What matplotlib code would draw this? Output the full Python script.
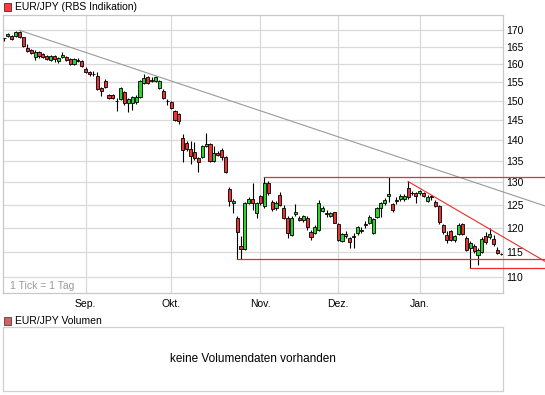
import matplotlib
matplotlib.use("Agg")
import matplotlib.pyplot as plt
from matplotlib.patches import Rectangle
from matplotlib.ticker import NullLocator, FixedLocator, FixedFormatter

plt.rcParams['font.family'] = ['Liberation Sans', 'DejaVu Sans']

# ---------------- data (EUR/JPY daily candles, trading-day index) ----------------
opens = [167.6, 168.1, 168.1, 168.1, 169.3, 167.8, 164.8, 164.1, 162.2, 163.5,
         162.9, 162.3, 161.3, 162.4, 160.9, 162.0, 162.0, 161.4, 160.1, 160.9,
         160.9, 158.8, 157.9, 157.3, 156.7, 153.4, 155.4, 151.6, 151.6, 150.1,
         150.5, 152.5, 149.4, 149.6, 149.7, 151.2, 154.9, 156.4, 155.6, 155.5,
         153.5, 152.8, 150.1, 149.8, 147.4, 146.6, 140.5, 139.3, 137.8, 137.2,
         135.6, 135.9, 138.6, 139.1, 135.1, 137.0, 137.6, 135.9, 128.5, 125.3,
         122.1, 116.2, 115.7, 125.3, 126.2, 123.2, 126.9, 124.6, 129.8, 125.6,
         124.2, 127.1, 124.3, 122.2, 118.6, 122.9, 122.2, 121.6, 122.2, 119.1,
         119.0, 119.6, 123.7, 123.2, 122.6, 123.3, 120.8, 117.3, 118.2, 117.8,
         118.3, 119.0, 119.3, 120.8, 121.1, 119.0, 122.4, 124.2, 125.4, 127.0,
         125.1, 126.0, 126.2, 126.2, 128.7, 127.7, 127.6, 127.5, 127.6, 125.9,
         126.9, 125.6, 124.7, 120.6, 118.5, 119.3, 117.4, 118.7, 120.8, 117.8,
         115.9, 116.2, 114.4, 115.0, 118.3, 118.0, 117.6, 115.4, 114.5]
highs = [167.7, 169.1, 168.4, 169.6, 169.8, 168.0, 165.9, 164.4, 164.1, 163.8,
         163.2, 162.6, 162.6, 162.7, 162.0, 163.4, 162.3, 161.7, 161.7, 161.8,
         161.2, 159.4, 158.2, 158.1, 157.9, 153.7, 155.9, 152.0, 152.0, 150.8,
         153.7, 152.8, 150.8, 151.3, 151.5, 155.8, 157.2, 156.7, 156.4, 156.9,
         155.6, 153.1, 150.5, 150.1, 147.7, 146.9, 141.5, 139.7, 139.9, 139.6,
         135.9, 138.9, 141.7, 139.4, 138.7, 137.4, 138.2, 136.2, 128.9, 126.2,
         122.5, 118.2, 125.5, 126.7, 129.8, 125.6, 127.2, 131.2, 130.2, 126.0,
         125.7, 127.8, 124.9, 122.6, 122.5, 125.1, 122.5, 122.8, 122.6, 119.5,
         120.5, 126.0, 124.6, 123.8, 123.4, 123.5, 121.0, 119.0, 119.3, 118.1,
         118.9, 120.4, 120.2, 121.5, 122.7, 122.1, 124.5, 125.6, 126.4, 131.3,
         125.4, 126.6, 127.3, 127.4, 130.2, 128.0, 127.9, 128.3, 127.9, 127.1,
         127.2, 126.0, 125.0, 120.9, 119.4, 119.6, 118.5, 121.0, 121.1, 118.2,
         117.2, 116.6, 115.8, 118.0, 119.2, 119.9, 118.4, 116.0, 114.7]
lows = [166.8, 167.9, 166.9, 167.9, 167.5, 165.0, 163.6, 162.9, 161.2, 161.9,
        161.7, 161.2, 161.0, 160.6, 160.3, 161.7, 160.9, 159.9, 159.8, 160.6,
        159.2, 157.6, 156.9, 156.7, 153.0, 151.3, 153.4, 150.6, 150.5, 147.5,
        150.2, 149.1, 147.2, 147.6, 149.3, 150.9, 154.6, 154.6, 155.0, 155.2,
        153.2, 150.5, 149.1, 148.0, 144.8, 144.0, 134.8, 137.5, 134.2, 135.3,
        132.3, 135.6, 138.3, 134.8, 134.8, 136.1, 135.3, 132.1, 124.6, 123.2,
        113.5, 113.5, 115.5, 125.1, 123.8, 122.2, 125.0, 124.3, 127.2, 123.6,
        123.9, 124.6, 121.9, 117.9, 118.3, 122.6, 121.4, 121.2, 119.6, 117.5,
        118.7, 119.3, 123.4, 122.3, 122.3, 121.0, 117.2, 117.1, 117.9, 115.8,
        115.8, 118.6, 118.9, 119.9, 120.8, 118.7, 122.1, 122.4, 125.0, 125.5,
        123.5, 125.2, 125.9, 125.9, 126.3, 127.2, 125.4, 127.2, 126.7, 125.6,
        126.0, 124.4, 120.9, 118.8, 116.9, 117.2, 117.1, 118.4, 118.4, 115.2,
        111.8, 114.8, 112.4, 114.7, 116.7, 117.7, 116.2, 114.6, 114.3]
closes = [167.5, 168.7, 167.2, 169.3, 167.8, 165.3, 163.9, 163.2, 163.6, 162.5,
          162.0, 161.5, 162.3, 161.4, 161.7, 162.8, 161.2, 160.2, 161.4, 161.3,
          159.5, 157.9, 157.3, 157.2, 153.3, 152.8, 153.7, 150.9, 150.8, 149.9,
          153.4, 149.4, 150.5, 151.0, 151.2, 155.5, 156.3, 154.9, 155.3, 156.4,
          155.3, 150.8, 149.9, 148.3, 145.1, 144.8, 137.6, 137.8, 136.2, 135.6,
          134.8, 138.6, 139.1, 135.1, 137.0, 136.4, 135.9, 132.4, 125.9, 125.9,
          119.2, 115.7, 125.3, 126.2, 125.3, 125.3, 125.3, 129.8, 127.5, 124.0,
          125.3, 124.9, 122.2, 119.0, 122.2, 123.5, 121.7, 122.5, 120.1, 118.1,
          120.1, 125.4, 124.2, 123.0, 123.1, 121.1, 117.5, 118.7, 118.7, 117.1,
          118.1, 120.1, 119.6, 120.6, 122.4, 121.9, 124.2, 125.3, 126.1, 127.4,
          123.8, 125.8, 127.0, 127.0, 126.6, 127.6, 126.9, 128.0, 127.0, 126.8,
          126.7, 124.7, 121.2, 119.1, 117.5, 117.5, 118.2, 120.7, 118.7, 115.5,
          116.8, 115.3, 115.4, 117.7, 117.0, 118.7, 116.6, 114.9, 114.5]

month_pos = [21, 43, 66, 86, 107]
month_labels = ["Sep.", "Okt.", "Nov.", "Dez.", "Jan."]
price_ticks = [110, 115, 120, 125, 130, 135, 140, 145, 150, 155, 160, 165, 170]

# trend lines (index, price)
long_trend = [(4, 169.9), (139.3, 124.7)]
resistance = [(67, 131.2), (139.3, 131.2)]
support = [(60, 113.5), (139.3, 113.5)]
support_low = [(120, 111.8), (139.3, 111.8)]
down_trend = [(104, 130.2), (139.3, 113.1)]

# ---------------- figure ----------------
W, H = 545, 395
fig = plt.figure(figsize=(W / 100, H / 100), dpi=100)

def fx(px):
    return px / W

def fy(py):
    return 1 - py / H

ax_l, ax_r, ax_t, ax_b = 2.7, 502.5, 14.5, 292.7
ax = fig.add_axes([fx(ax_l), fy(ax_b), fx(ax_r - ax_l), (ax_b - ax_t) / H])

GREEN = '#2ed12e'
RED = '#e83434'

n = len(opens)
for i in range(n):
    o, h, l, c = opens[i], highs[i], lows[i], closes[i]
    ax.vlines(i, l, h, color='black', lw=0.8, zorder=3)
    col = GREEN if c > o else RED
    lo, hi = min(o, c), max(o, c)
    ax.bar(i, hi - lo, bottom=lo, width=0.8, color=col,
           edgecolor='black', linewidth=0.6, zorder=4)

ax.set_yscale('log')
ax.set_ylim(107.05, 174.7)
ax.set_xlim(-0.35, 128.3)
ax.yaxis.set_major_locator(FixedLocator(price_ticks))
ax.yaxis.set_major_formatter(FixedFormatter([str(t) for t in price_ticks]))
ax.yaxis.set_minor_locator(NullLocator())
ax.yaxis.tick_right()
ax.set_xticks(month_pos)
ax.set_xticklabels(month_labels)
ax.tick_params(axis='both', length=0, labelsize=7.5, colors='black')
ax.tick_params(axis='y', pad=3)
ax.tick_params(axis='x', pad=4.5)
ax.grid(True, color='#d9d9d9', lw=0.9, zorder=0)
ax.set_axisbelow(True)
for s in ax.spines.values():
    s.set_color('#c8c8c8')
    s.set_linewidth(0.9)

def draw_line(pts, color, lw):
    (x0, y0), (x1, y1) = pts
    ax.plot([x0, x1], [y0, y1], color=color, lw=lw, clip_on=False, zorder=5)

draw_line(long_trend, '#9a9a9a', 0.8)
draw_line(resistance, '#ee2b2b', 0.9)
draw_line(support, '#ee2b2b', 0.9)
draw_line(support_low, '#ee2b2b', 0.9)
draw_line(down_trend, '#ee2b2b', 0.8)

ax.text(0.015, 0.025, "1 Tick = 1 Tag", transform=ax.transAxes, fontsize=7.5,
        color='#999999', ha='left', va='center')

# title legend
fig.patches.append(Rectangle((fx(3.5), fy(10.5)), fx(7.5), 7.5 / H,
                             transform=fig.transFigure, facecolor='#ff3a3a',
                             edgecolor='#333333', lw=0.6))
fig.text(fx(15), fy(6.5), "EUR/JPY (RBS Indikation)", fontsize=7.5,
         ha='left', va='center', color='black')

# volume panel
fig.patches.append(Rectangle((fx(3.5), fy(324.5)), fx(7.5), 7.5 / H,
                             transform=fig.transFigure, facecolor='#d9605c',
                             edgecolor='#444444', lw=0.6))
fig.text(fx(15), fy(320.5), "EUR/JPY Volumen", fontsize=7.5,
         ha='left', va='center', color='black')

vax = fig.add_axes([fx(3), fy(390.5), fx(500), 63.5 / H])
vax.set_xticks([])
vax.set_yticks([])
for s in vax.spines.values():
    s.set_color('#d0d0d0')
    s.set_linewidth(0.9)
vax.text(0.5, 0.5, "keine Volumendaten vorhanden", transform=vax.transAxes,
         ha='center', va='center', fontsize=8.5, color='black')

fig.savefig("out.png", dpi=100)
